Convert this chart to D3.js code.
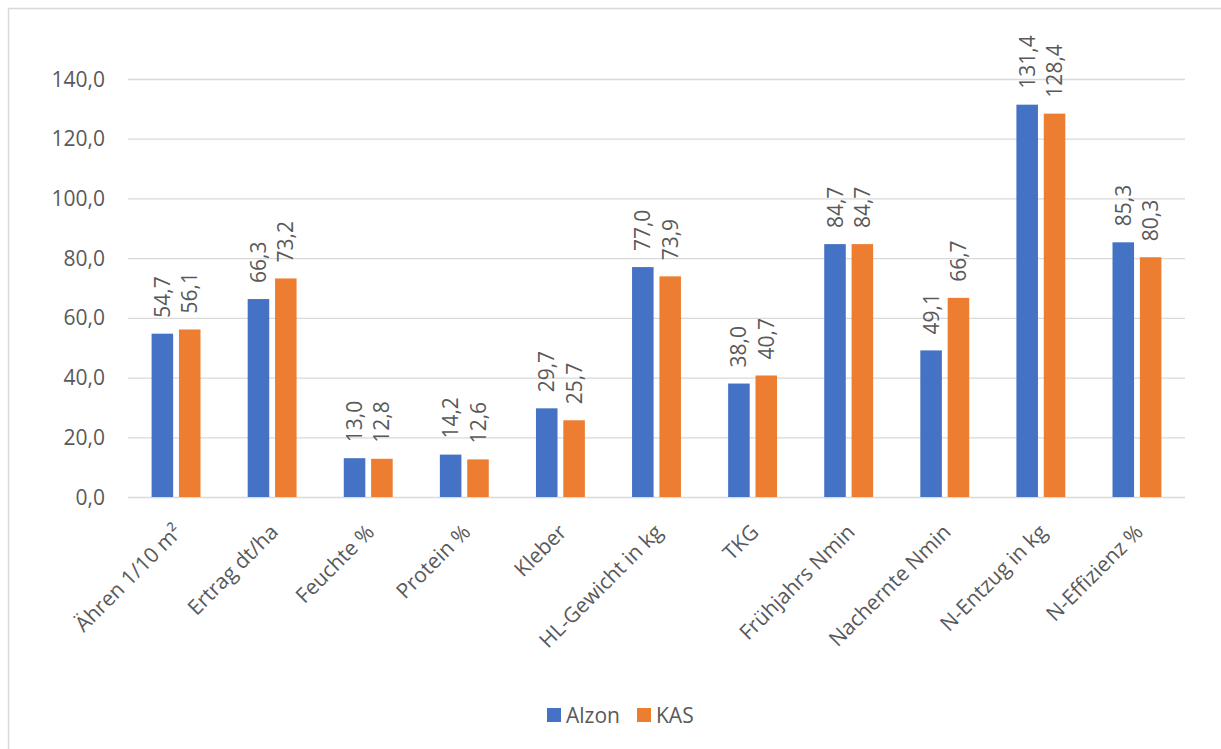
<!DOCTYPE html>
<html>
<head>
<meta charset="utf-8">
<script src="https://cdn.jsdelivr.net/npm/d3@7"></script>
<style>
  body { margin: 0; background: #fff; }
  svg { display: block; font-family: 'Open Sans', 'Noto Sans', sans-serif; }
  .grid line { stroke: #d9d9d9; stroke-width: 1.3; }
  .grid .domain { display: none; }
  .tick-label, .data-label, .cat-label, .legend-label { fill: #595959; font-size: 21px; }
</style>
</head>
<body>
<div id="chart"></div>
<script>
const categories = [
  'Ähren 1/10 m²', 'Ertrag dt/ha', 'Feuchte %', 'Protein %', 'Kleber',
  'HL-Gewicht in kg', 'TKG', 'Frühjahrs Nmin', 'Nachernte Nmin',
  'N-Entzug in kg', 'N-Effizienz %'
];
const seriesNames = ['Alzon', 'KAS'];
const alzon = [54.7, 66.3, 13.0, 14.2, 29.7, 77.0, 38.0, 84.7, 49.1, 131.4, 85.3];
const kas = [56.1, 73.2, 12.8, 12.6, 25.7, 73.9, 40.7, 84.7, 66.7, 128.4, 80.3];
const yTicks = [0, 20, 40, 60, 80, 100, 120, 140];
const colors = ['#4472c4', '#ed7d31'];

const width = 1221;
const height = 749;
const margin = { top: 79, right: 36, bottom: 252, left: 128 };

const locale = d3.formatLocale({ decimal: ',', thousands: '.', grouping: [3], currency: ['', ' €'] });
const fmt = locale.format('.1f');

const svg = d3.select('#chart').append('svg')
  .attr('width', width)
  .attr('height', height);

// chart area border (cut off on right and bottom like the screenshot)
svg.append('rect')
  .attr('x', 8.5)
  .attr('y', 8.5)
  .attr('width', 1223)
  .attr('height', 760)
  .attr('fill', 'none')
  .attr('stroke', '#d9d9d9')
  .attr('stroke-width', 1.5);

const x0 = d3.scaleBand()
  .domain(categories)
  .range([margin.left, width - margin.right])
  .padding(0);

// excel default: gap width 219%, overlap -27%
const barW = x0.bandwidth() / 4.46;
const groupW = barW * 2.27;
const x1 = d3.scaleBand()
  .domain(seriesNames)
  .range([(x0.bandwidth() - groupW) / 2, (x0.bandwidth() + groupW) / 2])
  .paddingInner(0.2126);

const y = d3.scaleLinear()
  .domain([0, 140])
  .range([height - margin.bottom, margin.top]);

// gridlines
svg.append('g')
  .attr('class', 'grid')
  .attr('transform', 'translate(' + margin.left + ',0)')
  .call(
    d3.axisLeft(y)
      .tickValues(yTicks)
      .tickSize(-(width - margin.right - margin.left))
      .tickFormat('')
  );

// y tick labels
svg.append('g')
  .selectAll('text')
  .data(yTicks)
  .join('text')
  .attr('class', 'tick-label')
  .attr('x', margin.left - 23)
  .attr('y', d => y(d))
  .attr('dy', '0.36em')
  .attr('text-anchor', 'end')
  .text(d => fmt(d));

const rows = categories.map((c, i) => ({ cat: c, values: [alzon[i], kas[i]] }));

const groups = svg.append('g')
  .selectAll('g')
  .data(rows)
  .join('g')
  .attr('transform', d => 'translate(' + x0(d.cat) + ',0)');

groups.selectAll('rect')
  .data(d => d.values.map((v, i) => ({ name: seriesNames[i], v, i })))
  .join('rect')
  .attr('x', d => x1(d.name))
  .attr('y', d => y(d.v))
  .attr('width', x1.bandwidth())
  .attr('height', d => y(0) - y(d.v))
  .attr('fill', d => colors[d.i]);

// value labels, rotated
groups.selectAll('text.data-label')
  .data(d => d.values.map((v, i) => ({ name: seriesNames[i], v, i })))
  .join('text')
  .attr('class', 'data-label')
  .attr('transform', d =>
    'translate(' + (x1(d.name) + x1.bandwidth() / 2) + ',' + (y(d.v) - 16) + ') rotate(-90)')
  .attr('dy', '0.36em')
  .attr('text-anchor', 'start')
  .text(d => fmt(d.v));

// category labels
svg.append('g')
  .selectAll('text')
  .data(categories)
  .join('text')
  .attr('class', 'cat-label')
  .attr('transform', d =>
    'translate(' + (x0(d) + x0.bandwidth() / 2 + 2) + ',' + (y(0) + 31) + ') rotate(-45)')
  .attr('dy', '0.36em')
  .attr('text-anchor', 'end')
  .text(d => d);

// legend
const legend = svg.append('g').attr('transform', 'translate(547,708)');
const legendX = [0, 90];
seriesNames.forEach((name, i) => {
  legend.append('rect')
    .attr('x', legendX[i])
    .attr('y', 0)
    .attr('width', 14)
    .attr('height', 14)
    .attr('fill', colors[i]);
  legend.append('text')
    .attr('class', 'legend-label')
    .attr('x', legendX[i] + 19)
    .attr('y', 7)
    .attr('dy', '0.36em')
    .text(name);
});
</script>
</body>
</html>
